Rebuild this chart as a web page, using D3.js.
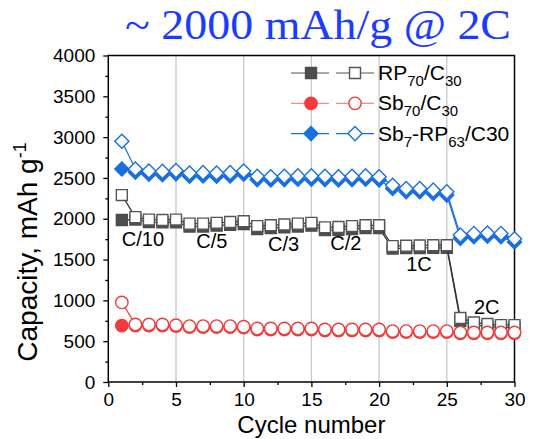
<!DOCTYPE html>
<html>
<head>
<meta charset="utf-8">
<script src="https://cdn.jsdelivr.net/npm/d3@7/dist/d3.min.js"></script>
<style>
  html, body { margin: 0; padding: 0; background: #fff; }
  svg { display: block; font-family: "Liberation Sans", Arial, sans-serif; }
</style>
</head>
<body>
<svg id="chart" width="538" height="439"></svg>
<script>
// Cycle index shared by all three electrodes
const cycles = [1,2,3,4,5,6,7,8,9,10,11,12,13,14,15,16,17,18,19,20,21,22,23,24,25,26,27,28,29,30];

// RP70/C30 capacity (mAh/g): filled = charge, open = discharge
const rpCharge    = [1985,1990,1960,1955,1955,1905,1905,1915,1925,1935,1875,1885,1895,1905,1915,1860,1865,1875,1885,1885,1635,1640,1642,1645,1645,750,700,680,670,670];
const rpDischarge = [2290,2020,1990,1985,1990,1940,1940,1950,1960,1970,1910,1920,1930,1940,1950,1895,1900,1910,1920,1920,1665,1670,1672,1676,1676,785,730,710,697,697];

// Sb70/C30
const sbCharge    = [690,690,690,690,685,672,672,672,672,665,642,642,642,642,642,630,630,630,630,630,612,612,612,612,612,596,596,596,596,596];
const sbDischarge = [975,705,705,705,697,685,685,685,685,677,656,656,656,656,656,644,644,644,644,644,624,624,624,624,624,608,608,608,608,608];

// Sb7-RP63/C30
const mixCharge    = [2610,2570,2545,2540,2550,2520,2525,2520,2525,2545,2480,2475,2480,2485,2485,2480,2475,2480,2485,2475,2370,2330,2330,2310,2290,1760,1780,1785,1780,1715];
const mixDischarge = [2950,2610,2585,2580,2590,2560,2565,2560,2565,2585,2520,2515,2520,2525,2525,2520,2515,2520,2525,2515,2410,2370,2370,2350,2330,1800,1820,1825,1820,1755];

// Axis ticks
const xTicks = [0,5,10,15,20,25,30];
const yTicks = [0,500,1000,1500,2000,2500,3000,3500,4000];
const xMinor = [2.5,7.5,12.5,17.5,22.5,27.5];
const yMinor = [250,750,1250,1750,2250,2750,3250,3750];

// C-rate annotations: [text, cycle, capacity]
const rateLabels = [
  ["C/10", 1.0, 1670],
  ["C/5", 6.5, 1640],
  ["C/3", 11.8, 1610],
  ["C/2", 16.4, 1620],
  ["1C", 22.0, 1360],
  ["2C", 27.0, 830]
];

const colors = { rp: "#4d4d4d", sb: "#f03c3c", mix: "#1a6fe0" };

const svg = d3.select("#chart");
const x = d3.scaleLinear().domain([0, 30]).range([108.3, 514.5]);
const y = d3.scaleLinear().domain([0, 4000]).range([382, 55.5]);

// title
svg.append("text")
  .attr("x", 125).attr("y", 39)
  .attr("font-family", "'Liberation Serif', 'Times New Roman', serif")
  .attr("font-size", 42)
  .attr("fill", "#1a3cff")
  .attr("textLength", 386)
  .attr("lengthAdjust", "spacingAndGlyphs")
  .text("~ 2000 mAh/g @ 2C");

// vertical grid lines
svg.append("g").selectAll("line").data([5,10,15,20,25]).join("line")
  .attr("x1", d => x(d)).attr("x2", d => x(d))
  .attr("y1", y(4000)).attr("y2", y(0))
  .attr("stroke", "#c8c8c8").attr("stroke-width", 1.3);

// axes
svg.append("g").attr("transform", `translate(0,${y(0)})`)
  .call(d3.axisBottom(x).tickValues(xTicks).tickSize(5).tickPadding(6).tickFormat(d3.format("d")));
svg.append("g").attr("transform", `translate(${x(0)},0)`)
  .call(d3.axisLeft(y).tickValues(yTicks).tickSize(5).tickPadding(8).tickFormat(d3.format("d")));
svg.append("g").attr("transform", `translate(0,${y(0)})`)
  .call(d3.axisBottom(x).tickValues(xMinor).tickSize(3).tickFormat(""));
svg.append("g").attr("transform", `translate(${x(0)},0)`)
  .call(d3.axisLeft(y).tickValues(yMinor).tickSize(3).tickFormat(""));
svg.selectAll(".domain").remove();
svg.selectAll(".tick line").attr("stroke", "#000").attr("stroke-width", 1.3);
svg.selectAll(".tick text").attr("font-size", 19).attr("fill", "#000")
  .attr("font-family", "'Liberation Sans', Arial, sans-serif");

// frame
svg.append("rect")
  .attr("x", x(0)).attr("y", y(4000))
  .attr("width", x(30) - x(0)).attr("height", y(0) - y(4000))
  .attr("fill", "none").attr("stroke", "#000").attr("stroke-width", 1.5);

// axis titles
svg.append("text")
  .attr("x", (x(0) + x(30)) / 2).attr("y", 433)
  .attr("text-anchor", "middle").attr("font-size", 24)
  .text("Cycle number");
const yt = svg.append("text")
  .attr("transform", `translate(37,252) rotate(-90)`)
  .attr("text-anchor", "middle").attr("font-size", 28);
yt.append("tspan").text("Capacity, mAh g");
yt.append("tspan").attr("font-size", 18).attr("dy", -11).text("-1");

// series
const symSquare = d3.symbol().type(d3.symbolSquare).size(120);
const symCircle = d3.symbol().type(d3.symbolCircle).size(120);
const symDiamond = d3.symbol().type(d3.symbolSquare).size(100);

function drawSeries(vals, color, lineColor, sym, filled, rotate) {
  const pts = cycles.map((c, i) => [c, vals[i]]);
  const g = svg.append("g");
  g.append("path")
    .attr("d", d3.line().x(d => x(d[0])).y(d => y(d[1]))(pts))
    .attr("fill", "none").attr("stroke", lineColor).attr("stroke-width", 1.2);
  g.selectAll("path.m").data(pts).join("path")
    .attr("class", "m")
    .attr("d", sym)
    .attr("transform", d => `translate(${x(d[0])},${y(d[1])})${rotate ? " rotate(45)" : ""}`)
    .attr("fill", filled ? color : "#fff")
    .attr("stroke", color).attr("stroke-width", 1.4);
}

drawSeries(rpCharge, colors.rp, "#333", symSquare, true, false);
drawSeries(sbCharge, colors.sb, colors.sb, symCircle, true, false);
drawSeries(mixCharge, colors.mix, colors.mix, symDiamond, true, true);
drawSeries(rpDischarge, "#555", "#333", symSquare, false, false);
drawSeries(sbDischarge, colors.sb, colors.sb, symCircle, false, false);
drawSeries(mixDischarge, colors.mix, colors.mix, symDiamond, false, true);

// C-rate labels
svg.append("g").selectAll("text").data(rateLabels).join("text")
  .attr("x", d => x(d[1])).attr("y", d => y(d[2]))
  .attr("font-size", 20).attr("fill", "#000")
  .text(d => d[0]);

// legend
const legend = [
  { parts: [["RP",0],["70",1],["/C",0],["30",1]], color: colors.rp, open: "#555", line: "#555", sym: symSquare, rot: false },
  { parts: [["Sb",0],["70",1],["/C",0],["30",1]], color: colors.sb, open: colors.sb, line: "#f58a8a", sym: symCircle, rot: false },
  { parts: [["Sb",0],["7",1],["-RP",0],["63",1],["/C30",0]], color: colors.mix, open: colors.mix, line: colors.mix, sym: symDiamond, rot: true }
];
const lg = svg.append("g");
legend.forEach((item, i) => {
  const cy = 73 + i * 30.3;
  const row = lg.append("g");
  row.append("line").attr("x1", 291).attr("x2", 329).attr("y1", cy).attr("y2", cy)
    .attr("stroke", item.line).attr("stroke-width", 1.2);
  row.append("line").attr("x1", 336).attr("x2", 374).attr("y1", cy).attr("y2", cy)
    .attr("stroke", item.line).attr("stroke-width", 1.2);
  row.append("path").attr("d", item.sym)
    .attr("transform", `translate(311,${cy})${item.rot ? " rotate(45)" : ""}`)
    .attr("fill", item.color).attr("stroke", item.color).attr("stroke-width", 1.4);
  row.append("path").attr("d", item.sym)
    .attr("transform", `translate(355,${cy})${item.rot ? " rotate(45)" : ""}`)
    .attr("fill", "#fff").attr("stroke", item.open).attr("stroke-width", 1.4);
  const t = row.append("text").attr("x", 378).attr("y", cy + 7).attr("font-size", 21);
  item.parts.forEach(([s, sub], j) => {
    const prevSub = j > 0 && item.parts[j - 1][1];
    t.append("tspan")
      .attr("font-size", sub ? 15 : 21)
      .attr("dy", sub ? 6 : (prevSub ? -6 : 0))
      .text(s);
  });
});
</script>
</body>
</html>
